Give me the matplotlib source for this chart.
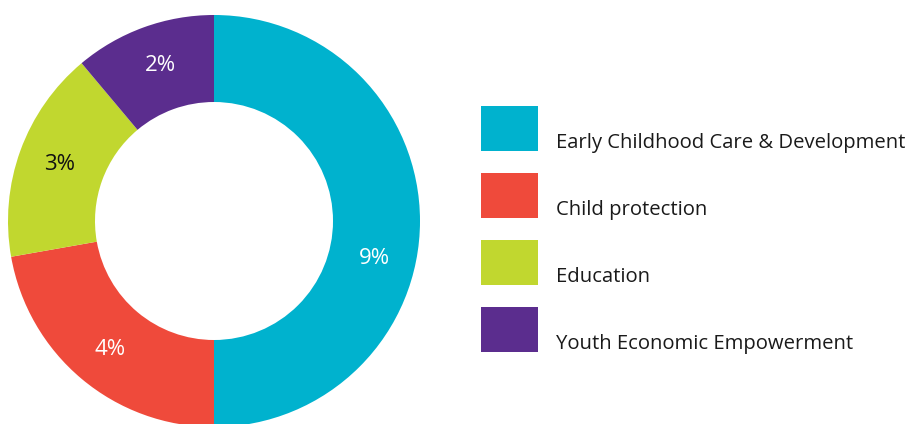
import matplotlib
matplotlib.use("Agg")
import matplotlib.pyplot as plt
from matplotlib.patches import Rectangle
import numpy as np

categories = ["Early Childhood Care & Development", "Child protection", "Education",
              "Youth Economic Empowerment"]
values = [9, 4, 3, 2]
labels = ["9%", "4%", "3%", "2%"]
colors = ["#00B2CE", "#EF4A3B", "#C1D72F", "#5B2D8E"]
label_colors = ["white", "white", "#111111", "white"]
label_angle_shift = [-13, 1, 0, -1]

plt.rcParams['font.family'] = ['Open Sans', 'DejaVu Sans']

W, H = 909, 424
fig = plt.figure(figsize=(W / 100, H / 100), dpi=100)

cx, cy, R, r_in = 214, 221, 206, 119
ax = fig.add_axes([(cx - R) / W, (H - cy - R) / H, 2 * R / W, 2 * R / H])
wedges, _ = ax.pie(values, colors=colors, startangle=90, counterclock=False,
                   radius=1, wedgeprops=dict(width=(R - r_in) / R, linewidth=0))
ax.set_xlim(-1, 1)
ax.set_ylim(-1, 1)
ax.set_aspect('equal')
ax.axis('off')

for w, lab, col, sh in zip(wedges, labels, label_colors, label_angle_shift):
    mid = np.deg2rad((w.theta1 + w.theta2) / 2 + sh)
    rr = 0.80
    ax.text(rr * np.cos(mid), rr * np.sin(mid), lab, ha='center', va='center',
            fontsize=16, color=col)

# legend
for i, (cat, col) in enumerate(zip(categories, colors)):
    top = 106 + 67 * i
    fig.add_artist(Rectangle((481 / W, (H - top - 45) / H), 57 / W, 45 / H,
                             transform=fig.transFigure, facecolor=col, edgecolor='none'))
    fig.text(556 / W, (H - (148 + 67 * i)) / H, cat, ha='left', va='baseline',
             fontsize=14.6, color='#1a1a1a')

fig.savefig("out.png", dpi=100)
